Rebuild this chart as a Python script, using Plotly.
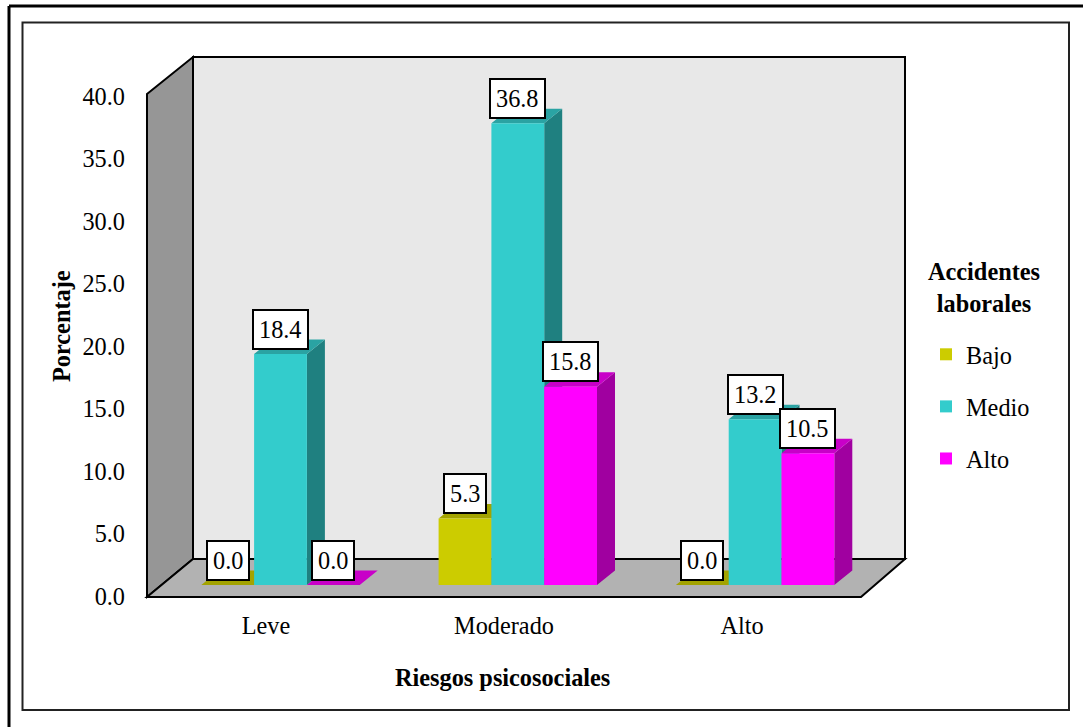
import plotly.graph_objects as go

categories = ["Leve", "Moderado", "Alto"]
bajo = [0.0, 5.3, 0.0]
medio = [18.4, 36.8, 13.2]
alto = [0.0, 15.8, 10.5]
y_ticks = [0, 5, 10, 15, 20, 25, 30, 35, 40]
y_tick_labels = ["0.0", "5.0", "10.0", "15.0", "20.0", "25.0", "30.0", "35.0", "40.0"]

series = [
    ("Bajo", bajo, "#CCCC00", "#A3A300", "#A3A300"),
    ("Medio", medio, "#33CCCC", "#2AA3A3", "#1F8080"),
    ("Alto", alto, "#FF00FF", "#C800C8", "#A000A0"),
]

W, H = 1083, 727
FONT = "Liberation Serif"
FS = 24.3

# frame of the plot box in pixels
L, R, T, B = 147, 861, 96, 596.5
PITCH, BAR_W = 237.3, 52.8     # px per category, px per bar
CX0, BASE, PXU = 280.5, 585.0, 12.55  # first group centre, bar base, px per unit
DX, DY = 18 / PITCH, 14.5 / PXU       # depth of a bar in axis units
bar_w = BAR_W / PITCH

def px(x):
    return x / W

def py(y):
    return 1 - y / H

def poly(points, fill, line="black", width=2):
    path = "M" + " L".join(f"{px(a):.5f},{py(b):.5f}" for a, b in points) + " Z"
    return dict(type="path", xref="paper", yref="paper", path=path, fillcolor=fill,
                line=dict(color=line, width=width), layer="below")

def seg(a, b, color="black", width=2):
    return dict(type="line", xref="paper", yref="paper", x0=px(a[0]), y0=py(a[1]),
                x1=px(b[0]), y1=py(b[1]), line=dict(color=color, width=width), layer="below")

def label(x, y, text, angle=0):
    return dict(x=px(x), y=py(y), xref="paper", yref="paper", text=text, textangle=angle,
                xanchor="center", yanchor="middle", align="center", showarrow=False,
                font=dict(family=FONT, size=FS, color="black"))

fig = go.Figure()

# depth faces of the bars, computed from the values
for i, (name, vals, front, top, side) in enumerate(series):
    tx, ty, sx, sy = [], [], [], []
    for c, v in enumerate(vals):
        x0 = c + (i - 1.5) * bar_w
        x1 = x0 + bar_w
        tx += [x0, x1, x1 + DX, x0 + DX, x0, None]
        ty += [v, v, v + DY, v + DY, v, None]
        if v > 0:
            sx += [x1, x1 + DX, x1 + DX, x1, x1, None]
            sy += [0, DY, v + DY, v, 0, None]
    for xs, ys, col in ((sx, sy, side), (tx, ty, top)):
        fig.add_trace(go.Scatter(x=xs, y=ys, mode="lines", fill="toself", fillcolor=col,
                                 line=dict(width=0, color=col), hoverinfo="skip",
                                 showlegend=False, xaxis="x2", yaxis="y2"))

# front faces
for i, (name, vals, front, top, side) in enumerate(series):
    fig.add_trace(go.Bar(x=list(range(len(categories))), y=vals, name=name,
                         marker=dict(color=front, line=dict(width=0)),
                         legendgroup=name, xaxis="x3", yaxis="y3"))

# invisible trace that carries the front axis with its labels
fig.add_trace(go.Scatter(x=list(range(len(categories))), y=[0] * len(categories), mode="none",
                         showlegend=False, hoverinfo="skip", xaxis="x", yaxis="y"))

# value boxes
annotations = []
for i, (name, vals, *_ ) in enumerate(series):
    for c, v in enumerate(vals):
        annotations.append(dict(x=c + (i - 1) * bar_w, y=v, xref="x3", yref="y3",
                                text=f"{v:.1f}", showarrow=False, yshift=25,
                                font=dict(family=FONT, size=FS, color="black"),
                                bgcolor="white", bordercolor="black", borderwidth=2, borderpad=5))
annotations.append(label(62, 326, "<b>Porcentaje</b>", angle=-90))
annotations.append(label(502, 677, "<b>Riesgos psicosociales</b>"))
annotations.append(label(984, 288, "<b>Accidentes<br>laborales</b>"))

FL, FT, FB, WR = 193, 57, 559, 905  # back wall corners
shapes = [
    poly([(L, 94), (FL, FT), (FL, FB), (L, 597)], "#969696"),
    poly([(FL, FT), (WR, FT), (WR, FB), (FL, FB)], "#E8E8E8"),
    poly([(L, 597), (FL, FB), (WR, FB), (R, 597)], "#B2B2B2"),
    seg((9, 6), (W, 6), width=3),
    seg((9, 6), (9, H), width=3),
    dict(type="rect", xref="paper", yref="paper", x0=px(22.5), x1=px(1069), y0=py(22.5), y1=py(710),
         line=dict(color="#222222", width=2), layer="below"),
]

dom_x = [px(L), px(R)]
dom_y = [py(B), py(T)]
x_range = [-(CX0 - L) / PITCH, (R - CX0) / PITCH]
y_range = [-(B - BASE) / PXU, (BASE - T) / PXU]
hidden = dict(visible=False, fixedrange=True)

fig.update_layout(
    width=W, height=H,
    margin=dict(l=0, r=0, t=0, b=0, autoexpand=False),
    paper_bgcolor="white", plot_bgcolor="rgba(0,0,0,0)",
    barmode="group", bargap=1 - 3 * bar_w, bargroupgap=0,
    font=dict(family=FONT, size=FS, color="black"),
    shapes=shapes, annotations=annotations,
    xaxis=dict(domain=dom_x, range=[-0.5, 2.5], tickvals=[0, 1, 2], ticktext=categories,
               showgrid=False, zeroline=False, showline=False, ticks="",
               ticklabelstandoff=12, tickfont=dict(family=FONT, size=FS, color="black")),
    yaxis=dict(domain=dom_y, range=[0, 40], tickvals=y_ticks, ticktext=y_tick_labels,
               showgrid=False, zeroline=False, showline=False, ticks="",
               ticklabelstandoff=21, tickfont=dict(family=FONT, size=FS, color="black")),
    xaxis2=dict(domain=dom_x, range=x_range, overlaying="x", anchor="y2", **hidden),
    yaxis2=dict(domain=dom_y, range=y_range, overlaying="y", anchor="x2", **hidden),
    xaxis3=dict(domain=dom_x, range=x_range, overlaying="x", anchor="y3", **hidden),
    yaxis3=dict(domain=dom_y, range=y_range, overlaying="y", anchor="x3", **hidden),
    legend=dict(x=px(926), y=py(332), xanchor="left", yanchor="top",
                bgcolor="rgba(0,0,0,0)", borderwidth=0, traceorder="grouped",
                tracegroupgap=17.5, itemclick=False, itemdoubleclick=False,
                font=dict(family=FONT, size=FS, color="black")),
)

fig.write_html("out.html", config=dict(displayModeBar=False),
               post_script="document.body.style.margin='0';document.body.style.overflow='hidden';")
